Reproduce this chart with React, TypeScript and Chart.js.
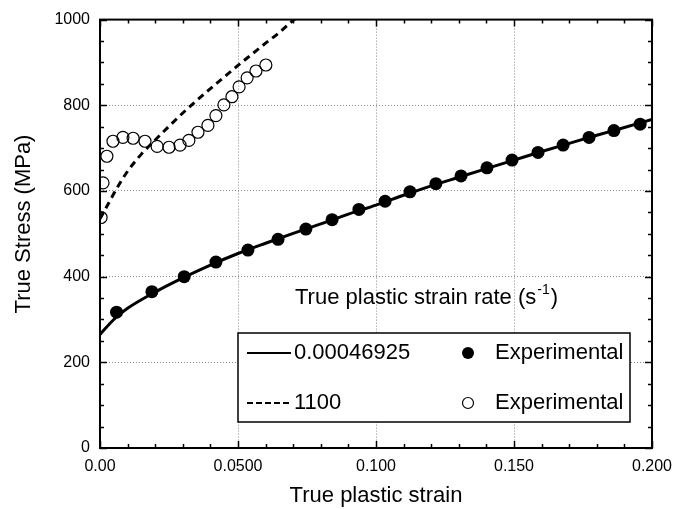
import React, { useEffect, useRef } from "react";
import { Chart, registerables } from "chart.js";

Chart.register(...registerables);

// ---- data ----
const xTickLabels = ["0.00", "0.0500", "0.100", "0.150", "0.200"];
const yTickLabels = ["0", "200", "400", "600", "800", "1000"];
const xTitle = "True plastic strain";
const yTitle = "True Stress (MPa)";
const legendTitleMain = "True plastic strain rate (s";
const legendTitleSup = "-1";
const legendTitleEnd = ")";
const legendRates = ["0.00046925", "1100"];
const legendExpLabel = "Experimental";

// fitted curve, strain rate 0.00046925 s^-1
const lowFitStrain = [0, 0.005, 0.01, 0.02, 0.03, 0.04, 0.05, 0.06, 0.07, 0.08, 0.09, 0.1, 0.11, 0.12, 0.13, 0.14, 0.15, 0.16, 0.17, 0.18, 0.19, 0.2];
const lowFitStress = [265, 300, 326, 364, 397, 427, 454, 478, 501, 523, 546, 567, 590, 612, 632, 652, 672, 692, 711, 730, 748, 767];

// fitted curve, strain rate 1100 s^-1
const highFitStrain = [0, 0.003, 0.006, 0.01, 0.015, 0.02, 0.025, 0.03, 0.035, 0.04, 0.045, 0.05, 0.055, 0.06, 0.065, 0.07, 0.075];
const highFitStress = [535, 570, 605, 646, 686, 719, 751, 782, 811, 839, 866, 893, 919, 945, 970, 998, 1022];

// experimental, low rate (filled)
const lowExpStrain = [0.006, 0.0188, 0.0305, 0.042, 0.0536, 0.0645, 0.0746, 0.0841, 0.0938, 0.1033, 0.1123, 0.1217, 0.1308, 0.1402, 0.1493, 0.1587, 0.1678, 0.1772, 0.1862, 0.1957];
const lowExpStress = [317, 365, 400, 434, 462, 487, 511, 533, 557, 576, 598, 617, 635, 654, 672, 690, 707, 725, 741, 756];

// experimental, high rate (open)
const highExpStrain = [0.0004, 0.0011, 0.0025, 0.0047, 0.0083, 0.012, 0.0163, 0.0207, 0.025, 0.029, 0.0322, 0.0355, 0.0391, 0.042, 0.0449, 0.0478, 0.0504, 0.0533, 0.0565, 0.0601];
const highExpStress = [538, 619, 681, 716, 725, 723, 716, 704, 702, 707, 718, 737, 753, 776, 801, 820, 843, 864, 880, 894];

const FONT = '"Liberation Sans", Arial, sans-serif';

const toPts = (xs: number[], ys: number[]) => xs.map((x, i) => ({ x, y: ys[i] }));

const decorPlugin = {
  id: "decor",
  afterDraw(chart: any) {
    const ctx = chart.ctx as CanvasRenderingContext2D;
    const xs = chart.scales.x;
    const ys = chart.scales.y;
    const { left, right, top, bottom } = chart.chartArea;
    ctx.save();
    // inward ticks
    ctx.strokeStyle = "#000";
    ctx.lineWidth = 1.5;
    ctx.beginPath();
    for (let i = 0; i <= 20; i++) {
      const px = Math.round(xs.getPixelForValue(i * 0.01)) + 0.5;
      const len = i % 5 === 0 ? 7 : 4;
      ctx.moveTo(px, bottom);
      ctx.lineTo(px, bottom - len);
      ctx.moveTo(px, top);
      ctx.lineTo(px, top + len);
    }
    for (let i = 0; i <= 20; i++) {
      const py = Math.round(ys.getPixelForValue(i * 50)) + 0.5;
      const len = i % 4 === 0 ? 7 : 4;
      ctx.moveTo(left, py);
      ctx.lineTo(left + len, py);
      ctx.moveTo(right, py);
      ctx.lineTo(right - len, py);
    }
    ctx.stroke();
    // frame
    ctx.lineWidth = 2;
    ctx.strokeRect(left, top, right - left, bottom - top);

    // y axis title
    ctx.fillStyle = "#000";
    ctx.font = `22px ${FONT}`;
    ctx.textAlign = "center";
    ctx.textBaseline = "middle";
    ctx.save();
    ctx.translate(24, 224);
    ctx.rotate(-Math.PI / 2);
    ctx.fillText(yTitle, 0, 0);
    ctx.restore();

    // legend title
    ctx.textAlign = "left";
    let tx = 295;
    const ty = 298;
    ctx.fillText(legendTitleMain, tx, ty);
    tx += ctx.measureText(legendTitleMain).width;
    ctx.font = `14px ${FONT}`;
    ctx.fillText(legendTitleSup, tx + 1, ty - 8);
    tx += ctx.measureText(legendTitleSup).width + 2;
    ctx.font = `22px ${FONT}`;
    ctx.fillText(legendTitleEnd, tx, ty);

    // legend box
    const bx = 238, by = 333, bw = 392, bh = 89;
    ctx.fillStyle = "#fff";
    ctx.fillRect(bx, by, bw, bh);
    ctx.strokeStyle = "#000";
    ctx.lineWidth = 1.5;
    ctx.strokeRect(bx, by, bw, bh);

    const rows = [353, 403];
    ctx.lineWidth = 2;
    ctx.beginPath();
    ctx.moveTo(247, rows[0]);
    ctx.lineTo(291, rows[0]);
    ctx.stroke();
    ctx.setLineDash([6, 3]);
    ctx.beginPath();
    ctx.moveTo(247, rows[1]);
    ctx.lineTo(291, rows[1]);
    ctx.stroke();
    ctx.setLineDash([]);

    ctx.fillStyle = "#000";
    ctx.font = `22px ${FONT}`;
    ctx.fillText(legendRates[0], 294, rows[0]);
    ctx.fillText(legendRates[1], 294, rows[1]);
    ctx.fillText(legendExpLabel, 495, rows[0]);
    ctx.fillText(legendExpLabel, 495, rows[1]);

    ctx.beginPath();
    ctx.arc(468, rows[0], 6, 0, Math.PI * 2);
    ctx.fill();
    ctx.lineWidth = 1.2;
    ctx.beginPath();
    ctx.arc(468, rows[1], 5.5, 0, Math.PI * 2);
    ctx.stroke();
    ctx.restore();
  },
};

export default function App() {
  const ref = useRef<HTMLCanvasElement | null>(null);
  useEffect(() => {
    if (!ref.current) return;
    const gridColor = (c: any) =>
      c.tick && (c.tick.value <= 0 || Math.abs(c.tick.value - c.scale.max) < 1e-9) ? "rgba(0,0,0,0)" : "#8a8a8a";
    const chart = new Chart(ref.current, {
      type: "scatter",
      data: {
        datasets: [
          {
            label: "fit 0.00046925",
            data: toPts(lowFitStrain, lowFitStress),
            showLine: true,
            borderColor: "#000",
            borderWidth: 3,
            pointRadius: 0,
            cubicInterpolationMode: "monotone",
          },
          {
            label: "fit 1100",
            data: toPts(highFitStrain, highFitStress),
            showLine: true,
            borderColor: "#000",
            borderWidth: 3,
            borderDash: [7, 5],
            pointRadius: 0,
            cubicInterpolationMode: "monotone",
          },
          {
            label: "exp low",
            data: toPts(lowExpStrain, lowExpStress),
            showLine: false,
            pointRadius: 6.5,
            pointBackgroundColor: "#000",
            pointBorderColor: "#000",
            pointBorderWidth: 0,
          },
          {
            label: "exp high",
            data: toPts(highExpStrain, highExpStress),
            showLine: false,
            pointRadius: 6,
            pointBackgroundColor: "rgba(0,0,0,0)",
            pointBorderColor: "#000",
            pointBorderWidth: 1.2,
          },
        ],
      },
      options: {
        animation: false,
        responsive: false,
        devicePixelRatio: 1,
        layout: { padding: { left: 0, right: 36, top: 15, bottom: 0 } },
        plugins: { legend: { display: false }, tooltip: { enabled: false } },
        scales: {
          x: {
            type: "linear",
            min: 0,
            max: 0.2,
            afterFit: (s: any) => {
              s.height = 61;
            },
            ticks: {
              stepSize: 0.05,
              color: "#000",
              font: { family: FONT, size: 16 },
              padding: 9,
              maxRotation: 0,
              callback: (_v: any, i: number) => xTickLabels[i],
            },
            grid: { color: gridColor, lineWidth: 1, drawTicks: false },
            border: { display: false, dash: [1, 2] },
            title: {
              display: true,
              text: xTitle,
              color: "#000",
              font: { family: FONT, size: 22 },
              padding: { top: 0, bottom: 0 },
            },
          },
          y: {
            type: "linear",
            min: 0,
            max: 1000,
            afterFit: (s: any) => {
              s.width = 100;
            },
            ticks: {
              stepSize: 200,
              color: "#000",
              font: { family: FONT, size: 16 },
              padding: 10,
              callback: (_v: any, i: number) => yTickLabels[i],
            },
            grid: { color: gridColor, lineWidth: 1, drawTicks: false },
            border: { display: false, dash: [1, 2] },
            title: { display: false },
          },
        },
      } as any,
      plugins: [decorPlugin],
    });
    return () => chart.destroy();
  }, []);
  return (
    <div style={{ position: "fixed", left: 0, top: 0, width: 688, height: 509, background: "#fff" }}>
      <canvas ref={ref} width={688} height={509} style={{ display: "block", width: 688, height: 509 }} />
    </div>
  );
}
